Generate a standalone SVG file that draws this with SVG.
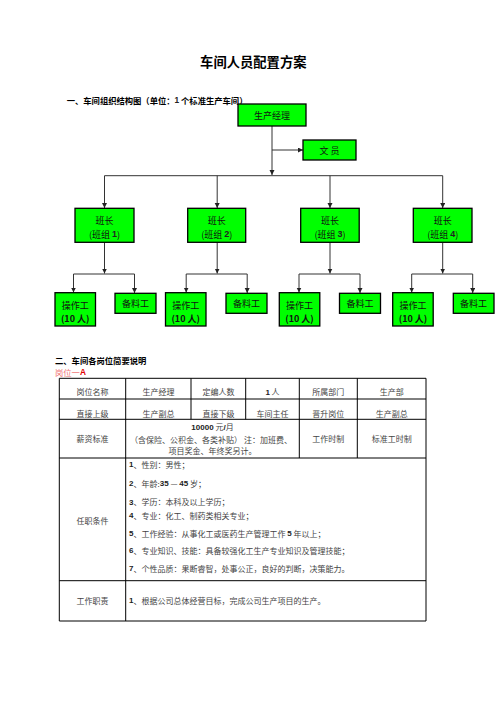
<svg xmlns="http://www.w3.org/2000/svg" width="496" height="702" viewBox="0 0 496 702">
<style>
.t{font-family:"Noto Sans CJK SC","Liberation Sans",sans-serif;dominant-baseline:central}
.h{font-weight:bold;fill:#000}
.box{fill:#00ff00;stroke:#000;stroke-width:1.3}
.org{font-size:9px;fill:#111;text-anchor:middle}
.con{stroke:#333;stroke-width:1;fill:none}
.tb{font-size:8px;fill:#444}
.c{text-anchor:middle}
.d{font-family:"Liberation Sans",sans-serif;font-weight:bold;fill:#222}
.grid{stroke:#000;stroke-width:1;fill:none}
</style>
<defs>
<marker id="ar" markerUnits="userSpaceOnUse" markerWidth="6" markerHeight="6" refX="5" refY="2.5" orient="auto">
<path d="M0,0 L5,2.5 L0,5 z" fill="#222"/>
</marker>
</defs>
<rect width="496" height="702" fill="#fff"/>
<text class="t h" x="253.3" y="61.7" font-size="13.3" text-anchor="middle">车间人员配置方案</text>
<text class="t h" x="66.7" y="100" font-size="8.3">一、车间组织结构图（单位：<tspan class="d">1</tspan> 个标准生产车间）</text>

<g id="connectors">
<path class="con" d="M272,126 V175" marker-end="url(#ar)"/>
<path class="con" d="M272,150 H303" marker-end="url(#ar)"/>
<path class="con" d="M104.5,175.7 H442.7"/>
<path class="con" d="M104.5,175.7 V208" marker-end="url(#ar)"/>
<path class="con" d="M217.2,175.7 V208" marker-end="url(#ar)"/>
<path class="con" d="M330,175.7 V208" marker-end="url(#ar)"/>
<path class="con" d="M442.7,175.7 V208" marker-end="url(#ar)"/>
<path class="con" d="M104.5,242.3 V273.5" marker-end="url(#ar)"/>
<path class="con" d="M73.5,274 H134.5 M73.5,274 V292.5 M134.5,274 V293" marker-end="url(#ar)"/>
<path class="con" d="M73.5,274 V292.5" marker-end="url(#ar)"/>
<path class="con" d="M217.2,242.3 V273.5" marker-end="url(#ar)"/>
<path class="con" d="M186.2,274 H247.2 M247.2,274 V293" marker-end="url(#ar)"/>
<path class="con" d="M186.2,274 V292.5" marker-end="url(#ar)"/>
<path class="con" d="M330,242.3 V273.5" marker-end="url(#ar)"/>
<path class="con" d="M299,274 H360 M360,274 V293" marker-end="url(#ar)"/>
<path class="con" d="M299,274 V292.5" marker-end="url(#ar)"/>
<path class="con" d="M442.7,242.3 V273.5" marker-end="url(#ar)"/>
<path class="con" d="M411.7,274 H472.7 M472.7,274 V293" marker-end="url(#ar)"/>
<path class="con" d="M411.7,274 V292.5" marker-end="url(#ar)"/>
</g>

<g id="manager"><rect class="box" x="238" y="104" width="68" height="22"/><text class="t org" x="272" y="115">生产经理</text></g>
<g id="clerk"><rect class="box" x="303" y="140" width="53" height="20"/><text class="t org" x="329.5" y="150">文 员</text></g>

<g id="leader1"><rect class="box" x="75" y="208.3" width="59" height="34"/><text class="t org" font-size="8.5" x="104.5" y="220.7">班长</text><text class="t org" font-size="8.5" x="104.5" y="234">(班组 <tspan class="d" font-weight="normal">1</tspan>)</text></g>
<g id="leader2"><rect class="box" x="187.7" y="208.3" width="58" height="34"/><text class="t org" font-size="8.5" x="216.7" y="220.7">班长</text><text class="t org" font-size="8.5" x="216.7" y="234">(班组 <tspan class="d" font-weight="normal">2</tspan>)</text></g>
<g id="leader3"><rect class="box" x="300.7" y="208.3" width="58.5" height="34"/><text class="t org" font-size="8.5" x="330" y="220.7">班长</text><text class="t org" font-size="8.5" x="330" y="234">(班组 <tspan class="d" font-weight="normal">3</tspan>)</text></g>
<g id="leader4"><rect class="box" x="413.3" y="208.3" width="58.7" height="34"/><text class="t org" font-size="8.5" x="442.7" y="220.7">班长</text><text class="t org" font-size="8.5" x="442.7" y="234">(班组 <tspan class="d" font-weight="normal">4</tspan>)</text></g>

<g id="worker1"><rect class="box" x="55" y="292.7" width="40.5" height="33.3"/><text class="t org" x="75.2" y="305">操作工</text><text class="t org" x="75.2" y="318.3" font-weight="bold">(10 人)</text></g>
<g id="material1"><rect class="box" x="115" y="293.3" width="41" height="20"/><text class="t org" x="135.5" y="303.3">备料工</text></g>
<g id="worker2"><rect class="box" x="165.5" y="292.7" width="40.5" height="33.3"/><text class="t org" x="185.7" y="305">操作工</text><text class="t org" x="185.7" y="318.3" font-weight="bold">(10 人)</text></g>
<g id="material2"><rect class="box" x="226" y="293.3" width="41" height="20"/><text class="t org" x="246.5" y="303.3">备料工</text></g>
<g id="worker3"><rect class="box" x="279.3" y="292.7" width="40.5" height="33.3"/><text class="t org" x="299.5" y="305">操作工</text><text class="t org" x="299.5" y="318.3" font-weight="bold">(10 人)</text></g>
<g id="material3"><rect class="box" x="339.5" y="293.3" width="41" height="20"/><text class="t org" x="360" y="303.3">备料工</text></g>
<g id="worker4"><rect class="box" x="392.7" y="292.7" width="40.5" height="33.3"/><text class="t org" x="413" y="305">操作工</text><text class="t org" x="413" y="318.3" font-weight="bold">(10 人)</text></g>
<g id="material4"><rect class="box" x="453.3" y="293.3" width="40.7" height="20"/><text class="t org" x="473.6" y="303.3">备料工</text></g>

<text class="t h" x="55" y="360" font-size="8.3">二、车间各岗位简要说明</text>
<text class="t" x="55" y="371.7" font-size="8.3" fill="#f07070">岗位一<tspan font-family="Liberation Sans,sans-serif" font-weight="bold" fill="#e00000">A</tspan></text>

<g id="table">
<path class="grid" d="M59.3,378.3 H426 V621 H59.3 Z M59.3,399 H426 M59.3,419.3 H426 M59.3,458 H426 M59.3,580.7 H426 M125.7,378.3 V621 M191,378.3 V419.3 M245.7,378.3 V419.3 M299.3,378.3 V458 M357.3,378.3 V458"/>
<text class="t tb c" x="92.5" y="391.7">岗位名称</text>
<text class="t tb c" x="158.4" y="391.7">生产经理</text>
<text class="t tb c" x="218.4" y="391.7">定编人数</text>
<text class="t tb c" x="272.5" y="391.7"><tspan class="d">1</tspan> 人</text>
<text class="t tb c" x="328.3" y="391.7">所属部门</text>
<text class="t tb c" x="391.7" y="391.7">生产部</text>
<text class="t tb c" x="92.5" y="413.3">直接上级</text>
<text class="t tb c" x="158.4" y="413.3">生产副总</text>
<text class="t tb c" x="218.4" y="413.3">直接下级</text>
<text class="t tb c" x="272.5" y="413.3">车间主任</text>
<text class="t tb c" x="328.3" y="413.3">晋升岗位</text>
<text class="t tb c" x="391.7" y="413.3">生产副总</text>
<text class="t tb c" x="92.5" y="438.3">薪资标准</text>
<text class="t tb c" x="212.5" y="426.7"><tspan class="d">10000</tspan> 元<tspan class="d">/</tspan>月</text>
<text class="t tb c" x="211" y="439.3">（含保险、公积金、各类补贴） 注：加班费、</text>
<text class="t tb c" x="212.5" y="450">项目奖金、年终奖另计。</text>
<text class="t tb c" x="328.3" y="438.3">工作时制</text>
<text class="t tb c" x="391.7" y="438.3">标准工时制</text>
<text class="t tb c" x="92.5" y="520">任职条件</text>
<text class="t tb" x="129" y="464.3"><tspan class="d">1</tspan>、性别：男性；</text>
<text class="t tb" x="129" y="483.3"><tspan class="d">2</tspan>、年龄:<tspan class="d">35</tspan> — <tspan class="d">45</tspan> 岁；</text>
<text class="t tb" x="129" y="501.7"><tspan class="d">3</tspan>、学历：本科及以上学历；</text>
<text class="t tb" x="129" y="515"><tspan class="d">4</tspan>、专业：化工、制药类相关专业；</text>
<text class="t tb" x="129" y="533.3"><tspan class="d">5</tspan>、工作经验：从事化工或医药生产管理工作 <tspan class="d">5</tspan> 年以上；</text>
<text class="t tb" x="129" y="550"><tspan class="d">6</tspan>、专业知识、技能：具备较强化工生产专业知识及管理技能；</text>
<text class="t tb" x="129" y="568.3"><tspan class="d">7</tspan>、个性品质：果断睿智，处事公正，良好的判断，决策能力。</text>
<text class="t tb c" x="92.5" y="600">工作职责</text>
<text class="t tb" x="129" y="600"><tspan class="d">1</tspan>、根据公司总体经营目标，完成公司生产项目的生产。</text>
</g>
</svg>
